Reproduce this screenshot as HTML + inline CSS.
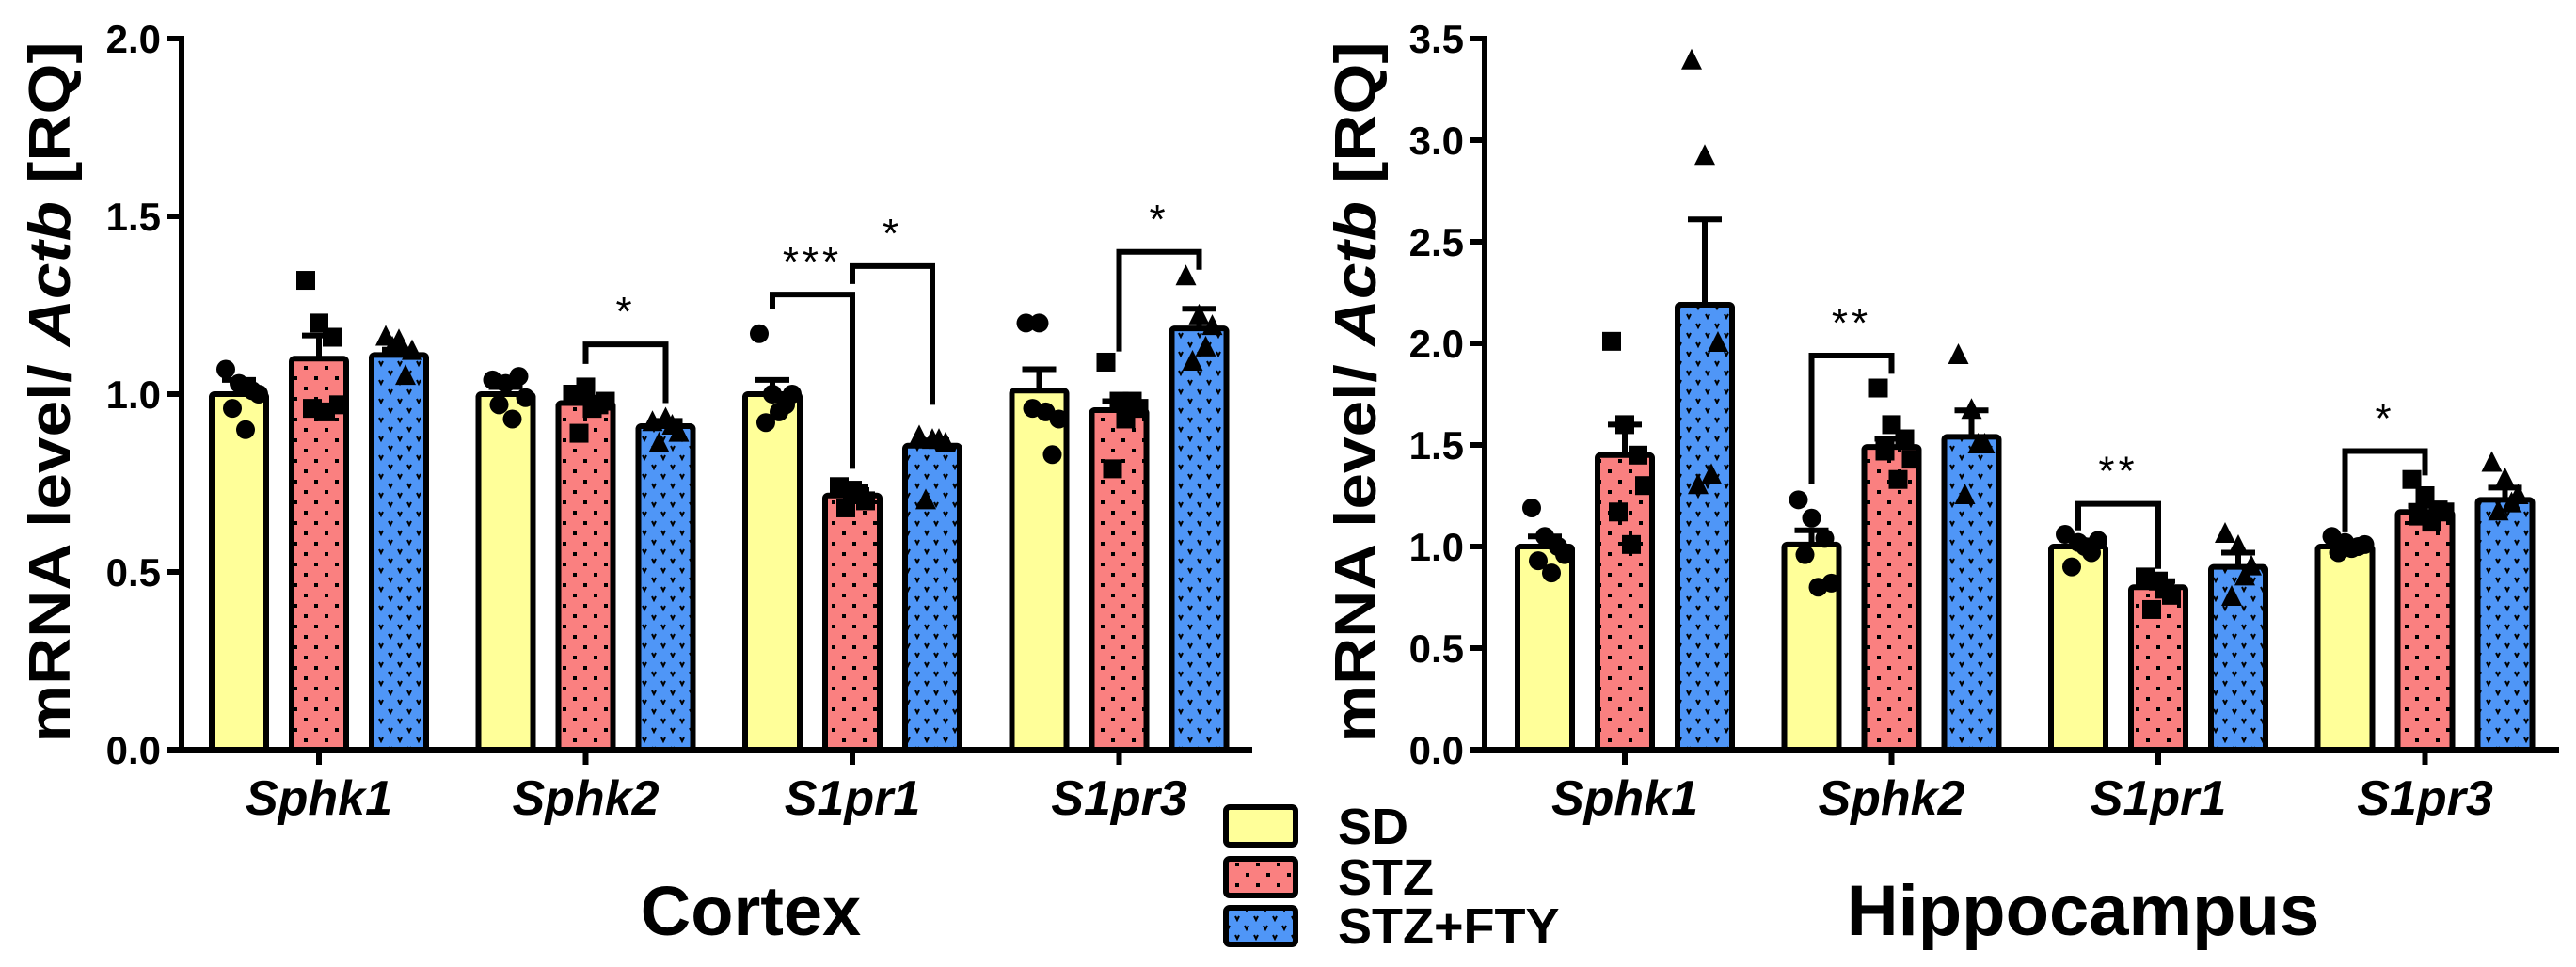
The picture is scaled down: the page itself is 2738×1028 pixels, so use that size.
<!DOCTYPE html>
<html><head><meta charset="utf-8"><style>
html,body{margin:0;padding:0;background:#fff;}
svg{display:block;font-family:"Liberation Sans",Arial,sans-serif;}
</style></head><body>
<svg id="fig" width="2738" height="1028" viewBox="0 0 2738 1028" xmlns="http://www.w3.org/2000/svg">
<defs>
<pattern id="dots" width="22" height="22" patternUnits="userSpaceOnUse">
<rect width="22" height="22" fill="#fa8080"/><rect x="4" y="4" width="4" height="4" fill="#000"/><rect x="15" y="15" width="4" height="4" fill="#000"/>
</pattern>
<pattern id="vdots" width="20" height="20" patternUnits="userSpaceOnUse">
<rect width="20" height="20" fill="#4f96f7"/><path d="M3 4 L5 8 L7 4 M13 14 L15 18 L17 14" stroke="#000" stroke-width="2" fill="none"/>
</pattern>
</defs>
<g id="left"></g>
<g id="right"></g>
<g>
<g><rect x="1303" y="858" width="74" height="40" rx="4" fill="#ffff99" stroke="#000" stroke-width="6"/><text x="1422" y="897" font-size="54" font-weight="bold">SD</text></g>
<g><rect x="1303" y="913" width="74" height="39" rx="4" fill="url(#dots)" stroke="#000" stroke-width="6"/><text x="1422" y="951" font-size="54" font-weight="bold">STZ</text></g>
<g><rect x="1303" y="965" width="74" height="39" rx="4" fill="url(#vdots)" stroke="#000" stroke-width="6"/><text x="1422" y="1003" font-size="54" font-weight="bold">STZ+FTY</text></g>
</g>
<text x="798" y="994" font-size="74" font-weight="bold" text-anchor="middle">Cortex</text>
<text x="2214" y="994" font-size="76" font-weight="bold" text-anchor="middle">Hippocampus</text>
</svg>
<script>
const categories = ["Sphk1","Sphk2","S1pr1","S1pr3"];
const groups = ["SD","STZ","STZ+FTY"];
// Cortex
const cortexMeans = [[1.0,1.10,1.11],[1.0,0.975,0.91],[1.0,0.715,0.855],[1.01,0.955,1.185]];
const cortexErrTop = [[1.04,1.165,1.125],[1.02,0.99,0.925],[1.04,0.73,0.87],[1.07,0.98,1.24]];
const cortexPoints = [
 [[1.07,1.03,1.01,0.96,0.90,1.0],[1.32,1.20,1.16,0.96,0.95,0.97],[1.16,1.15,1.12,1.13,1.05]],
 [[1.04,1.03,1.05,0.97,0.93,0.99],[1.0,1.02,0.97,0.89,0.96,0.98],[0.92,0.93,0.89,0.86,0.91]],
 [[1.17,1.0,0.97,0.92,0.95,1.0],[0.74,0.73,0.70,0.68,0.72],[0.88,0.87,0.86,0.70,0.87]],
 [[1.20,1.20,0.83,0.96,0.95,0.93],[1.09,0.98,0.98,0.79,0.93,0.96],[1.33,1.22,1.19,1.09,1.13]]];
const cortexTicks = ["0.0","0.5","1.0","1.5","2.0"];
const cortexSig = [[1,1,2,1.14,1.085,0.975,"*"],[2,0,1,1.28,1.24,0.79,"***"],[2,1,2,1.36,1.31,0.97,"*"],[3,1,2,1.40,1.12,1.35,"*"]];
// Hippocampus
const hippoMeans = [[1.0,1.45,2.19],[1.01,1.49,1.54],[1.0,0.80,0.90],[1.0,1.17,1.23]];
const hippoErrTop = [[1.05,1.60,2.61],[1.08,1.53,1.67],[1.03,0.83,0.97],[1.02,1.20,1.29]];
const hippoPoints = [
 [[1.19,1.05,1.0,0.93,0.87,0.96],[2.01,1.60,1.45,1.17,1.01,1.30],[3.39,2.92,2.0,1.30,1.35]],
 [[1.23,1.14,1.04,0.96,0.80,0.82],[1.78,1.60,1.53,1.47,1.33,1.43],[1.94,1.67,1.50,1.25,1.50]],
 [[1.06,1.02,0.97,0.90,1.0,1.03],[0.85,0.83,0.76,0.69,0.79],[1.06,1.0,0.90,0.75,0.85]],
 [[1.05,1.02,1.0,0.97,0.99,1.01],[1.33,1.25,1.18,1.15,1.12,1.17],[1.41,1.33,1.25,1.17,1.21]]];
const hippoTicks = ["0.0","0.5","1.0","1.5","2.0","2.5","3.0","3.5"];
const hippoSig = [[1,0,1,1.94,1.31,1.85,"**"],[2,0,1,1.21,1.08,0.89,"**"],[3,0,1,1.47,1.07,1.35,"*"]];

const NS="http://www.w3.org/2000/svg";
function mk(p,tag,attrs){const e=document.createElementNS(NS,tag);for(const k in attrs)e.setAttribute(k,attrs[k]);p.appendChild(e);return e;}
const fills=["#ffff99","url(#dots)","url(#vdots)"];

function drawChart(gid,cfg){
 const g=document.getElementById(gid);
 const {ax,axEnd,y0,yTop,vmax,means,errs,pts,ticks,sig,titleX,g0}=cfg;
 const yS=v=>y0-(v/vmax)*(y0-yTop);
 const gx=i=>g0+i*283.5;
 const bx=(i,j)=>gx(i)+(j-1)*85;
 // bars
 means.forEach((row,i)=>row.forEach((m,j)=>{
  const cx=bx(i,j);
  const err=mk(g,'line',{x1:cx,x2:cx,y1:yS(m),y2:yS(errs[i][j]),stroke:'#000','stroke-width':6});
  
  
  const cap=mk(g,'line',{x1:cx-18,x2:cx+18,y1:yS(errs[i][j]),y2:yS(errs[i][j]),stroke:'#000','stroke-width':6});
  
  
  const r=mk(g,'rect',{x:cx-29,y:yS(m),width:58,height:y0-yS(m),fill:fills[j],stroke:'#000','stroke-width':6,rx:3});
  
  
 }));
 // points
 pts.forEach((grp,i)=>grp.forEach((arr,j)=>{
  const cx=bx(i,j);
  arr.forEach((v,k)=>{
   const off=((k%3)-1)*14+(k>=3?7:0);
   const x=cx+off,y=yS(v);let m;
   if(j===0)m=mk(g,'circle',{cx:x,cy:y,r:10,fill:'#000'});
   else if(j===1)m=mk(g,'rect',{x:x-10,y:y-10,width:20,height:20,fill:'#000'});
   else m=mk(g,'path',{d:`M${x} ${y-13} L${x+11} ${y+9} L${x-11} ${y+9} Z`,fill:'#000'});
   
   
  });
 }));
 // axes
 const ya=mk(g,'line',{x1:ax,x2:ax,y1:yTop-3,y2:y0+3,stroke:'#000','stroke-width':6});
 
 
 const xa=mk(g,'line',{x1:ax-3,x2:axEnd,y1:y0,y2:y0,stroke:'#000','stroke-width':6});
 
 
 ticks.forEach(t=>{
  const y=yS(parseFloat(t));
  const tl=mk(g,'line',{x1:ax-16,x2:ax,y1:y,y2:y,stroke:'#000','stroke-width':6});
  
  
  const tx=mk(g,'text',{x:ax-22,y:y+15,'font-size':42,'font-weight':'bold','text-anchor':'end'});
  tx.textContent=t;
  
  
 });
 categories.forEach((c,i)=>{
  const tl=mk(g,'line',{x1:gx(i),x2:gx(i),y1:y0,y2:y0+16,stroke:'#000','stroke-width':6});
  
  
  const tx=mk(g,'text',{x:gx(i),y:866,'font-size':52,'font-weight':'bold','font-style':'italic','text-anchor':'middle'});
  tx.textContent=c;
  
  
 });
 // y title
 const tt=mk(g,'text',{transform:`translate(${titleX},417) rotate(-90)`,'font-size':62,'font-weight':'bold','text-anchor':'middle',textLength:745,lengthAdjust:'spacingAndGlyphs'});
 tt.innerHTML='mRNA level/ <tspan font-style="italic">Actb</tspan> [RQ]';
 
 
 // significance
 sig.forEach(s=>{
  const [i,a,b,top,la,lb,lab]=s;
  const x1=bx(i,a),x2=bx(i,b),yt=yS(top);
  const p=mk(g,'path',{d:`M${x1} ${yS(la)} L${x1} ${yt} L${x2} ${yt} L${x2} ${yS(lb)}`,fill:'none',stroke:'#000','stroke-width':6});
  
  
  const t=mk(g,'text',{x:(x1+x2)/2,y:yt-20,'font-size':44,'text-anchor':'middle','letter-spacing':4});
  t.textContent=lab;
  
  
 });
}
drawChart('left',{ax:193,axEnd:1331,y0:797,yTop:41,vmax:2.0,means:cortexMeans,errs:cortexErrTop,pts:cortexPoints,ticks:cortexTicks,sig:cortexSig,titleX:74,g0:339});
drawChart('right',{ax:1578,axEnd:2720,y0:797,yTop:41,vmax:3.5,means:hippoMeans,errs:hippoErrTop,pts:hippoPoints,ticks:hippoTicks,sig:hippoSig,titleX:1462,g0:1727});
</script>
</body></html>
